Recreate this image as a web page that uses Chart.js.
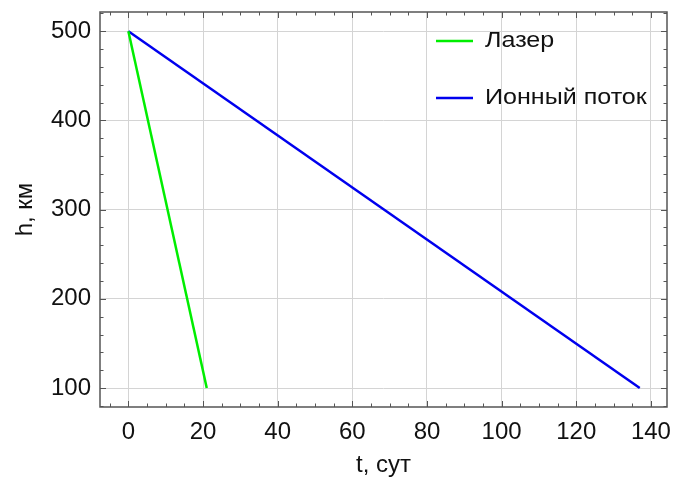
<!DOCTYPE html>
<html>
<head>
<meta charset="utf-8">
<script src="https://cdn.jsdelivr.net/npm/chart.js@4.4.0/dist/chart.umd.min.js"></script>
<style>
  html, body { margin: 0; padding: 0; background: #fff; }
  #wrap { width: 673px; height: 484px; }
</style>
</head>
<body>
<div id="wrap"><canvas id="chart" width="673" height="484"></canvas></div>
<script>
// data
const tLaser = [0, 21];
const hLaser = [500, 100];
const tIon = [0, 137];
const hIon = [500, 100];
const seriesNames = ['Лазер', 'Ионный поток'];
const xTicks = [0, 20, 40, 60, 80, 100, 120, 140];
const yTicks = [100, 200, 300, 400, 500];

const FONT = 'Liberation Sans, Arial, sans-serif';

function pts(xs, ys) {
  return xs.map((x, i) => ({ x: x, y: ys[i] }));
}

// Mathematica style frame with inward ticks on all sides
const frameTicks = {
  id: 'frameTicks',
  afterDraw(chart) {
    const ctx = chart.ctx;
    const a = chart.chartArea;
    const xs = chart.scales.x, ys = chart.scales.y;
    ctx.save();
    ctx.strokeStyle = '#555';
    ctx.lineWidth = 1;
    for (let v = -5; v <= xs.max; v += 5) {
      const p = Math.round(xs.getPixelForValue(v)) + 0.5;
      if (p < a.left || p > a.right) continue;
      const len = v % 20 === 0 ? 6 : 3.5;
      ctx.beginPath();
      ctx.moveTo(p, a.bottom); ctx.lineTo(p, a.bottom - len);
      ctx.moveTo(p, a.top); ctx.lineTo(p, a.top + len);
      ctx.stroke();
    }
    for (let v = 80; v <= ys.max; v += 20) {
      const p = Math.round(ys.getPixelForValue(v)) + 0.5;
      if (p < a.top || p > a.bottom) continue;
      const len = v % 100 === 0 ? 6 : 3.5;
      ctx.beginPath();
      ctx.moveTo(a.left, p); ctx.lineTo(a.left + len, p);
      ctx.moveTo(a.right, p); ctx.lineTo(a.right - len, p);
      ctx.stroke();
    }
    ctx.lineWidth = 1.5;
    ctx.strokeRect(a.left, a.top, a.right - a.left, a.bottom - a.top);

    // legend in the upper right corner
    ctx.textBaseline = 'middle';
    ctx.fillStyle = '#111';
    chart.data.datasets.forEach((ds, i) => {
      const y = 41 + i * 57;
      ctx.strokeStyle = ds.borderColor;
      ctx.lineWidth = 2.5;
      ctx.beginPath();
      ctx.moveTo(436, y); ctx.lineTo(473, y);
      ctx.stroke();
      ctx.save();
      ctx.translate(485, y);
      ctx.scale(1.14, 1);
      ctx.font = '22px ' + FONT;
      ctx.fillText(ds.label, 0, 0);
      ctx.restore();
    });
    ctx.restore();
  }
};

new Chart(document.getElementById('chart'), {
  type: 'scatter',
  data: {
    datasets: [
      {
        label: seriesNames[0],
        data: pts(tLaser, hLaser),
        showLine: true,
        borderColor: '#00ee00',
        borderWidth: 2.5,
        pointRadius: 0
      },
      {
        label: seriesNames[1],
        data: pts(tIon, hIon),
        showLine: true,
        borderColor: '#0000ee',
        borderWidth: 2.5,
        pointRadius: 0
      }
    ]
  },
  options: {
    responsive: false,
    animation: false,
    layout: { padding: { top: 12, right: 6, left: 0, bottom: 0 } },
    plugins: { legend: { display: false }, tooltip: { enabled: false } },
    scales: {
      x: {
        type: 'linear',
        min: -7.6,
        max: 144.3,
        afterBuildTicks: s => { s.ticks = xTicks.map(v => ({ value: v })); },
        afterFit: s => { s.height = 77; s.paddingLeft = 0; s.paddingRight = 0; },
        grid: { color: '#d4d4d4', drawTicks: false },
        border: { display: false },
        ticks: { color: '#111', padding: 11, font: { size: 24, family: FONT } },
        title: { display: true, text: 't, сут', color: '#111', padding: { top: 4 }, font: { size: 24, family: FONT } }
      },
      y: {
        type: 'linear',
        min: 78.8,
        max: 521.5,
        afterBuildTicks: s => { s.ticks = yTicks.map(v => ({ value: v })); },
        afterFit: s => { s.width = 100; s.paddingTop = 0; s.paddingBottom = 0; },
        grid: { color: '#d4d4d4', drawTicks: false },
        border: { display: false },
        ticks: { color: '#111', padding: 9, font: { size: 24, family: FONT } },
        title: { display: true, text: 'h, км', color: '#111', padding: { top: 11, bottom: 0 }, font: { size: 24, family: FONT } }
      }
    }
  },
  plugins: [frameTicks]
});
</script>
</body>
</html>
